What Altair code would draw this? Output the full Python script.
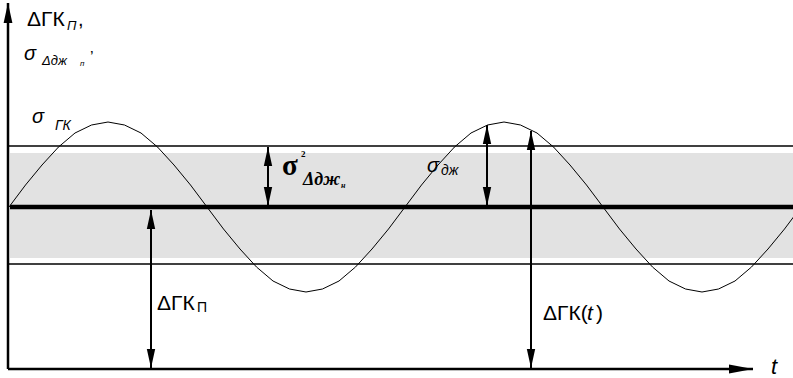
import altair as alt
import pandas as pd

# Oscillating course deviation ΔГК(t): time samples and values
t_curve = [1, 17.5, 34, 50.5, 67, 83.5, 100, 116.5, 133, 149.5, 166, 182.5,
           199, 215.5, 232, 248.5, 265, 281.5, 298, 314.5, 331, 347.5, 364, 380.5,
           397, 413.5, 430, 446.5, 463, 479.5, 496, 512.5, 529, 545.5, 562, 578.5,
           595, 611.5, 628, 644.5, 661, 677.5, 694, 710.5, 727, 743.5, 760, 776.5, 793]
gk_curve = [162, 184, 204, 222, 236, 244, 247, 244, 236, 222, 204, 184,
            162, 140, 120, 102, 88, 80, 77, 80, 88, 102, 120, 140,
            162, 184, 204, 222, 236, 244, 247, 244, 236, 222, 204, 184,
            162, 140, 120, 102, 88, 80, 77, 80, 88, 102, 120, 140, 162]

gk_mean = 162                    # ΔГК_П, constant component
band_low, band_high = 111, 216   # shaded spread band
sigma_low, sigma_high = 105, 223 # band boundary lines
t_left, t_right = 2, 785
t_axis_end = 745
v_axis_end = 366

# Double-headed dimension arrows: position t, lower tip, upper tip
arrow_t = [143, 523, 479, 260]
arrow_lo = [1, 1, 163, 163]
arrow_hi = [159, 238, 244, 222]

X_DOM = [-8, 785]
Y_DOM = [-9, 369]


def xs(field):
    return alt.X(field, type="quantitative", scale=alt.Scale(domain=X_DOM), axis=None)


def ys(field):
    return alt.Y(field, type="quantitative", scale=alt.Scale(domain=Y_DOM), axis=None)


UP = "M0,0 L0.22,1 L-0.22,1 Z"
DOWN = "M0,0 L0.22,-1 L-0.22,-1 Z"
RIGHT = "M0,0 L-1,0.19 L-1,-0.19 Z"

layers = []

# shaded band
band_df = pd.DataFrame({"t0": [t_left], "t1": [t_right], "v0": [band_low], "v1": [band_high]})
layers.append(alt.Chart(band_df).mark_rect(color="#e2e2e2").encode(
    x=xs("t0"), x2="t1", y=ys("v0"), y2="v1"))

# thin boundary lines
bnd_df = pd.DataFrame({"t0": [0, 0], "t1": [t_right, t_right], "v": [sigma_low, sigma_high]})
layers.append(alt.Chart(bnd_df).mark_rule(color="black", strokeWidth=1.3).encode(
    x=xs("t0"), x2="t1", y=ys("v")))

# thick mean line
mean_df = pd.DataFrame({"t0": [t_left], "t1": [t_right], "v": [gk_mean]})
layers.append(alt.Chart(mean_df).mark_rule(color="black", strokeWidth=4.5).encode(
    x=xs("t0"), x2="t1", y=ys("v")))

# oscillation
curve_df = pd.DataFrame({"t": t_curve, "v": gk_curve})
layers.append(alt.Chart(curve_df).mark_line(color="black", strokeWidth=1, clip=True).encode(
    x=xs("t"), y=ys("v")))

# axes
yaxis_df = pd.DataFrame({"t": [0], "v0": [0], "v1": [v_axis_end]})
layers.append(alt.Chart(yaxis_df).mark_rule(color="black", strokeWidth=2.5).encode(
    x=xs("t"), y=ys("v0"), y2="v1"))
layers.append(alt.Chart(yaxis_df).mark_point(shape=UP, size=1600, filled=True, color="black",
                                             opacity=1, strokeWidth=0).encode(
    x=xs("t"), y=ys("v1")))
xaxis_df = pd.DataFrame({"t0": [0], "t1": [t_axis_end], "v": [0]})
layers.append(alt.Chart(xaxis_df).mark_rule(color="black", strokeWidth=2.5).encode(
    x=xs("t0"), x2="t1", y=ys("v")))
layers.append(alt.Chart(xaxis_df).mark_point(shape=RIGHT, size=2304, filled=True, color="black",
                                             opacity=1, strokeWidth=0).encode(
    x=xs("t1"), y=ys("v")))

# dimension arrows
arr_df = pd.DataFrame({"t": arrow_t, "lo": arrow_lo, "hi": arrow_hi})
layers.append(alt.Chart(arr_df).mark_rule(color="black", strokeWidth=2).encode(
    x=xs("t"), y=ys("lo"), y2="hi"))
layers.append(alt.Chart(arr_df).mark_point(shape=UP, size=1444, filled=True, color="black",
                                           opacity=1, strokeWidth=0).encode(
    x=xs("t"), y=ys("hi")))
layers.append(alt.Chart(arr_df).mark_point(shape=DOWN, size=1444, filled=True, color="black",
                                           opacity=1, strokeWidth=0).encode(
    x=xs("t"), y=ys("lo")))

SANS = "Liberation Sans"
SERIF = "Liberation Serif"

# text pieces: text, t, v, font, size, style, weight
labels = [
    ("ΔГК", 19, 343, SANS, 21, "normal", "normal"),
    ("П", 59, 339, SANS, 13, "italic", "normal"),
    (",", 70, 343, SANS, 20, "normal", "normal"),
    ("σ", 16, 309, SANS, 20, "italic", "normal"),
    ("Δдж", 34, 304, SANS, 13, "italic", "normal"),
    ("п", 72, 303, SANS, 8, "italic", "normal"),
    ("’", 82, 306, SANS, 16, "normal", "normal"),
    ("σ", 24, 246, SANS, 20, "italic", "normal"),
    ("ГК", 47, 239, SANS, 14, "italic", "normal"),
    ("σ", 419, 197, SANS, 20, "italic", "normal"),
    ("дж", 433, 194, SANS, 14, "italic", "normal"),
    ("σ", 274, 194, SERIF, 29, "normal", "bold"),
    ("2", 293, 212, SERIF, 9, "normal", "bold"),
    ("Δдж", 295, 184, SERIF, 18, "italic", "bold"),
    ("н", 333, 181, SERIF, 8, "italic", "bold"),
    ("ΔГК", 149, 59, SANS, 21, "normal", "normal"),
    ("П", 189, 57, SANS, 14, "normal", "normal"),
    ("ΔГК(", 535, 49, SANS, 21, "normal", "normal"),
    ("t", 579, 49, SANS, 21, "italic", "normal"),
    (")", 588, 49, SANS, 21, "normal", "normal"),
    ("t", 763, -5, SANS, 22, "italic", "normal"),
]

for txt, tx, tv, font, fsize, fstyle, fweight in labels:
    df = pd.DataFrame({"label": [txt], "t": [tx], "v": [tv]})
    layers.append(alt.Chart(df).mark_text(
        align="left", baseline="alphabetic", font=font, fontSize=fsize,
        fontStyle=fstyle, fontWeight=fweight, color="black").encode(
        x=xs("t"), y=ys("v"), text="label:N"))

chart = alt.layer(*layers).properties(
    width=793, height=378,
    autosize=alt.AutoSizeParams(type="none"),
    padding=0,
).configure_view(stroke=None)

chart.save("out.html", embed_options={"renderer": "svg", "actions": False})
